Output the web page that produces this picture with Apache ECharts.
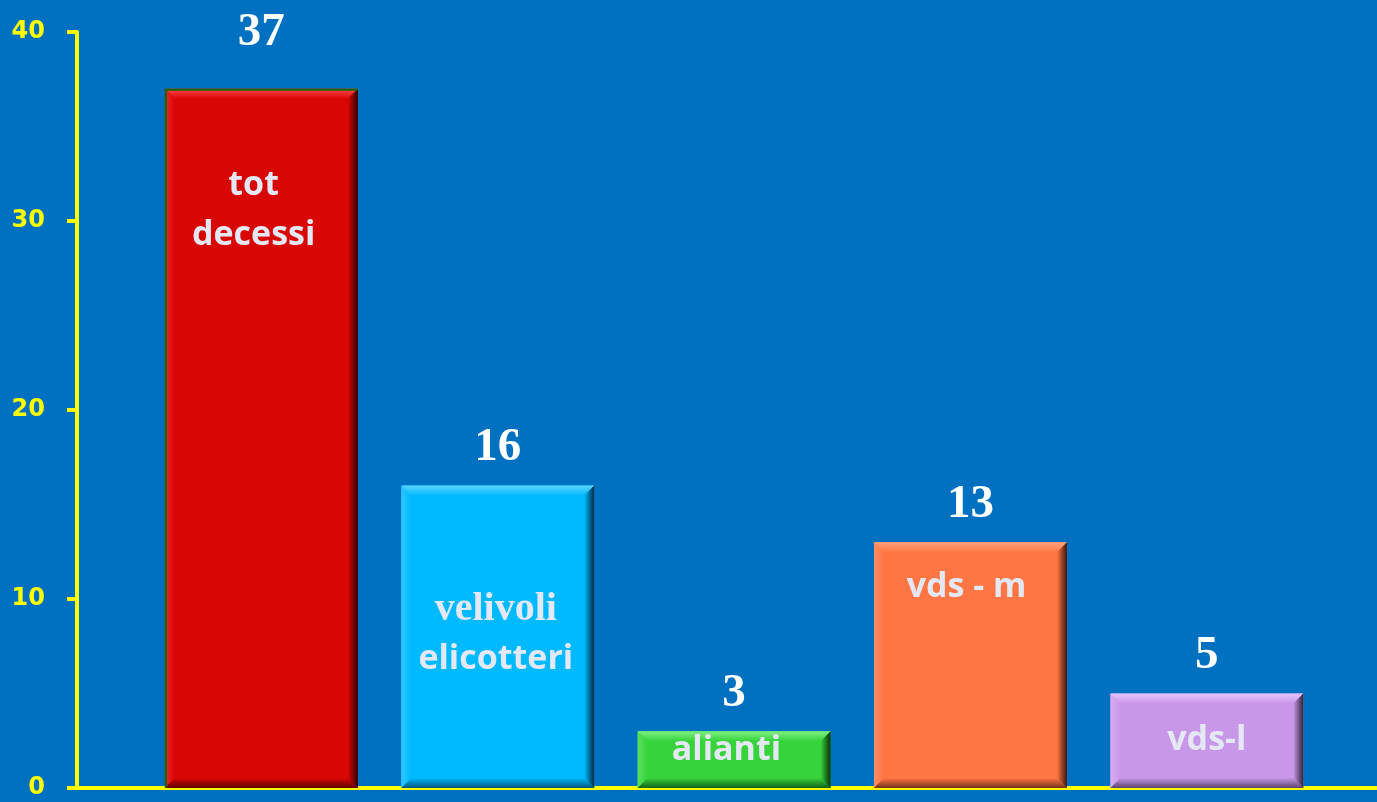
<!DOCTYPE html>
<html>
<head>
<meta charset="utf-8">
<script src="https://cdn.jsdelivr.net/npm/echarts@6/dist/echarts.min.js"></script>
<style>
  html, body { margin: 0; padding: 0; background: #0070C0; }
  #chart { width: 1377px; height: 802px; }
</style>
</head>
<body>
<div id="chart"></div>
<script>
// dati
var categories = ['tot\ndecessi', 'velivoli\nelicotteri', 'alianti', 'vds - m', 'vds-l'];
var values = [37, 16, 3, 13, 5];

// stile
var barColors = ['#D90606', '#00BAFF', '#36D33A', '#FF7645', '#C897E8'];
var darkColors = ['#2a0000', '#002a40', '#063008', '#3a1608', '#2e2238'];
var lightColors = ['#ff4a4a', '#5cd4ff', '#80ee84', '#ffa27c', '#e6c4ff'];
var edgeColors = ['#0b6a0b', null, null, null, null];
var innerLabelX = ['46%', '49%', '46%', '48%', '50%'];
var innerLabelY = [122, 149, 19, 45, 47];   // distanza dal bordo alto della barra
var topLabelDist = [32, 14, 14, 14, 14];

var myChart = echarts.init(document.getElementById('chart'));

var BAR_W = 193;
var BEVEL = 10;

// barre con effetto smusso
function renderBevel(params, api) {
    var i = api.value(0);
    var top = api.coord([i, api.value(1)]);
    var bot = api.coord([i, 0]);
    var x0 = top[0] - BAR_W / 2, x1 = top[0] + BAR_W / 2;
    var y0 = top[1], y1 = bot[1];
    var b = Math.min(BEVEL, (y1 - y0) / 3);
    var base = barColors[i], dark = darkColors[i], light = lightColors[i];
    var LG = echarts.graphic.LinearGradient;
    var kids = [
        { type: 'rect', shape: { x: x0, y: y0, width: x1 - x0, height: y1 - y0 }, style: { fill: base } },
        { type: 'polygon', shape: { points: [[x0, y0], [x1, y0], [x1 - b, y0 + b], [x0 + b, y0 + b]] },
          style: { fill: new LG(0, 0, 0, 1, [{ offset: 0, color: light }, { offset: 1, color: base }]) } },
        { type: 'polygon', shape: { points: [[x0, y0], [x0 + b, y0 + b], [x0 + b, y1 - b], [x0, y1]] },
          style: { fill: new LG(0, 0, 1, 0, [{ offset: 0, color: light }, { offset: 1, color: base }]), opacity: 0.5 } },
        { type: 'polygon', shape: { points: [[x1, y0], [x1, y1], [x1 - b, y1 - b], [x1 - b, y0 + b]] },
          style: { fill: new LG(0, 0, 1, 0, [{ offset: 0, color: base }, { offset: 1, color: dark }]) } },
        { type: 'polygon', shape: { points: [[x0, y1], [x1, y1], [x1 - b, y1 - b], [x0 + b, y1 - b]] },
          style: { fill: new LG(0, 0, 0, 1, [{ offset: 0, color: base }, { offset: 1, color: dark }]), opacity: 0.7 } }
    ];
    if (edgeColors[i]) {
        kids.push({ type: 'polyline', shape: { points: [[x0 + 1, y1], [x0 + 1, y0 + 1], [x1, y0 + 1]] },
                    style: { stroke: edgeColors[i], lineWidth: 2, fill: null } });
    }
    return { type: 'group', children: kids };
}

var labelData = values.map(function (v, i) {
    return {
        value: [i, v],
        label: { distance: topLabelDist[i] }
    };
});

var innerData = values.map(function (v, i) {
    return {
        value: [i, v],
        label: { position: [innerLabelX[i], innerLabelY[i]] }
    };
});

option = {
    backgroundColor: '#0070C0',
    animation: false,
    grid: {
        left: 77,
        right: 0,
        top: 32,
        bottom: 14
    },
    xAxis: {
        type: 'value',
        min: -0.78,
        max: 4.72,
        axisLine: { show: true, onZero: false, lineStyle: { color: '#FFFF00', width: 4 } },
        axisTick: { show: false },
        axisLabel: { show: false },
        splitLine: { show: false }
    },
    yAxis: {
        type: 'value',
        min: 0,
        max: 40,
        interval: 10,
        axisLine: { show: true, onZero: false, lineStyle: { color: '#FFFF00', width: 4 } },
        axisTick: { show: true, length: 10, lineStyle: { color: '#FFFF00', width: 4 } },
        axisLabel: {
            color: '#FFFF00',
            fontFamily: 'DejaVu Sans',
            fontWeight: 'bold',
            fontSize: 24,
            margin: 32
        },
        splitLine: { show: false }
    },
    series: [
        {
            type: 'custom',
            renderItem: renderBevel,
            data: values.map(function (v, i) { return [i, v]; }),
            encode: { x: 0, y: 1 },
            z: 1
        },
        {
            // etichette valore
            type: 'bar',
            barWidth: BAR_W,
            data: labelData,
            itemStyle: { color: 'rgba(0,0,0,0)' },
            label: {
                show: true,
                position: 'top',
                color: '#FFFFFF',
                fontFamily: 'Liberation Serif',
                fontWeight: 'bold',
                fontSize: 47,
                formatter: function (p) { return p.value[1]; }
            },
            z: 2
        },
        {
            // nomi dentro le barre
            type: 'bar',
            barWidth: BAR_W,
            barGap: '-100%',
            data: innerData,
            itemStyle: { color: 'rgba(0,0,0,0)' },
            label: {
                show: true,
                color: '#E4E8F4',
                fontFamily: 'Open Sans',
                fontWeight: 'bold',
                fontSize: 34,
                lineHeight: 50,
                align: 'center',
                verticalAlign: 'middle',
                formatter: function (p) {
                    var txt = categories[p.dataIndex];
                    if (p.dataIndex === 1) {
                        var parts = txt.split('\n');
                        return '{serif|' + parts[0] + '}\n' + parts[1];
                    }
                    return txt;
                },
                rich: {
                    serif: {
                        fontFamily: 'Liberation Serif',
                        fontWeight: 'bold',
                        fontSize: 40,
                        color: '#E4E8F4',
                        lineHeight: 50
                    }
                }
            },
            z: 3
        }
    ]
};

myChart.setOption(option);
</script>
</body>
</html>
